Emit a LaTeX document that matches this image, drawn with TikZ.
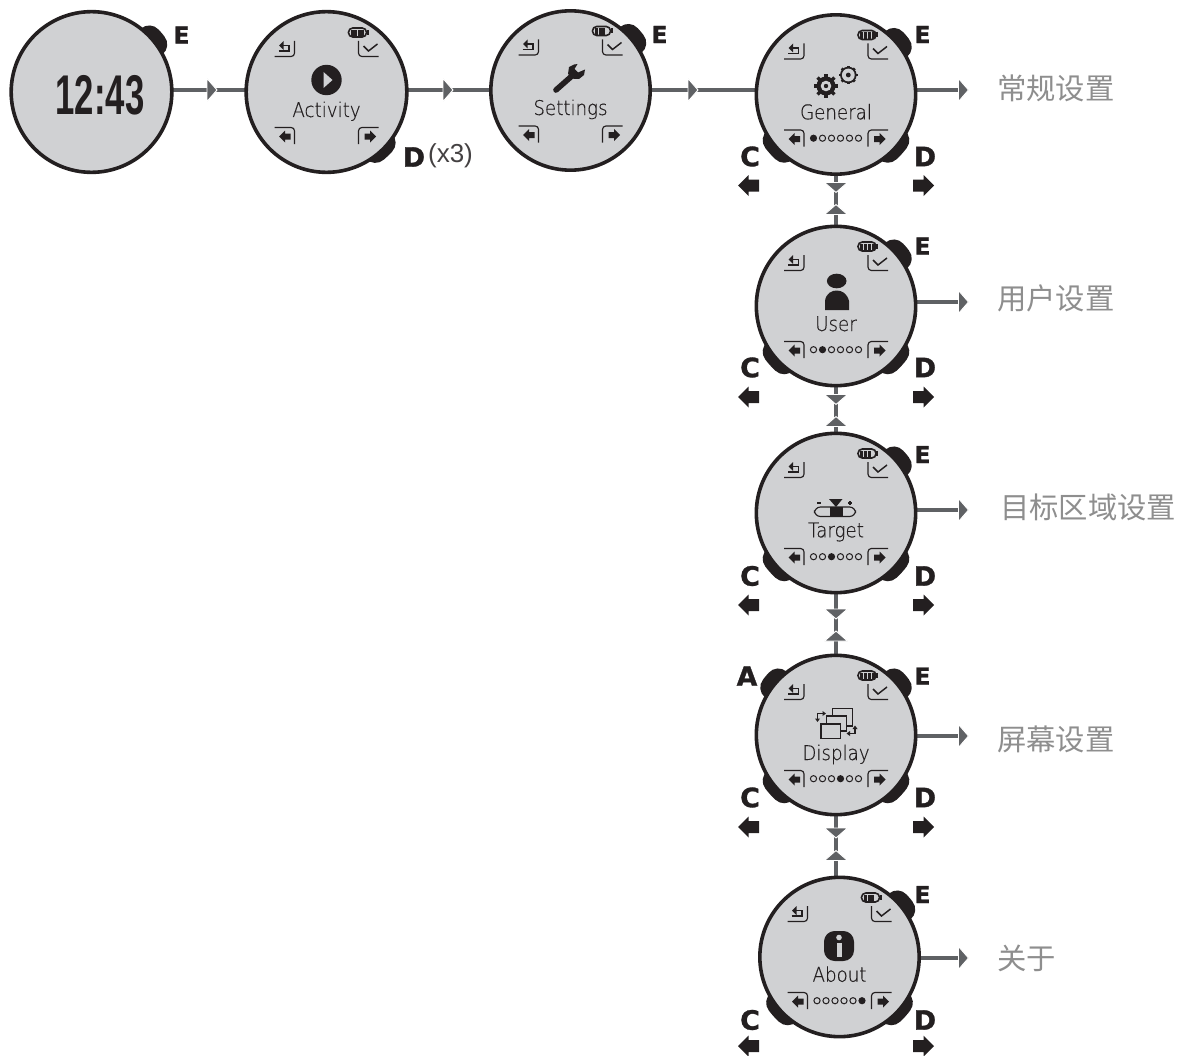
\documentclass[tikz,border=0pt]{standalone}
\usepackage{fontspec}
\usetikzlibrary{backgrounds}
\setmainfont{Liberation Sans}
\newfontfamily\cjk{Noto Sans CJK SC}
\newfontfamily\lcd[FakeBold=.35]{DejaVu Sans ExtraLight}
\newfontfamily\btnfont[FakeBold=1.2]{DejaVu Sans Bold}
\definecolor{ink}{HTML}{231F20}
\definecolor{screen}{HTML}{D0D1D3}
\definecolor{connc}{HTML}{5F6164}
\definecolor{cjkc}{HTML}{8E8E8E}
\tikzset{
  watch/.style={circle,draw=ink,fill=screen,line width=2.7pt,inner sep=0pt,outer sep=0pt,minimum size=120.5pt},
  conn/.style={draw=connc,line width=3pt},
  arrowtri/.style={fill=connc,draw=white,line width=.7pt},
  btn/.style={draw=ink,line width=19pt,line cap=round},
  thin/.style={draw=ink,line width=.85pt},
  lbl/.style={font=\lcd\fontsize{15.2pt}{16pt}\selectfont,text=ink,inner sep=0pt,anchor=base,xscale=.9},
  keyE/.style={font=\btnfont\fontsize{17.5pt}{17.5pt}\selectfont,text=ink,inner sep=0pt},
  keyL/.style={font=\btnfont\fontsize{20pt}{20pt}\selectfont,text=ink,inner sep=0pt},
  side/.style={font=\cjk\fontsize{22pt}{24pt}\selectfont,text=cjkc,inner sep=0pt,anchor=west},
}
% buttons, drawn at a corner of a watch: centre x, centre y, start angle, end angle (y down)
\newcommand\watchbtn[4]{\draw[btn] ({#1+79*cos(#3)},{#2+79*sin(#3)}) arc[start angle=#3,end angle=#4,radius=79];}
\newcommand\lowbtn[4]{\draw[btn] ({#1+76*cos(#3)},{#2+76*sin(#3)}) arc[start angle=#3,end angle=#4,radius=76];}
\newcommand\triR[2]{\filldraw[arrowtri] (#1,#2-11.5) -- (#1+10,#2) -- (#1,#2+11.5) -- cycle;}
\newcommand\triD[2]{\filldraw[arrowtri] (#1-11.5,#2) -- (#1+11.5,#2) -- (#1,#2+10) -- cycle;}
\newcommand\triU[2]{\filldraw[arrowtri] (#1-11.5,#2) -- (#1+11.5,#2) -- (#1,#2-10) -- cycle;}
% battery: bar width, number of bars
\newcommand\batt[2]{%
  \draw[draw=ink,line width=1.2pt,rounded corners=3.2pt] (22,-64) rectangle (40,-55);
  \fill[ink] (40,-62) rectangle (42,-57);
  \foreach \i in {1,...,#2}{\fill[ink] ({24.3+(\i-1)*(#1+.8)},-62) rectangle ++(#1,7);}
}
\newcommand\softkeys{%
  % back
  \draw[thin,rounded corners=2.5pt] (-52,-35.5) -- (-32,-35.5) -- (-32,-51);
  \draw[thin] (-48,-41) -- (-37.5,-41) -- (-37.5,-46.5) -- (-44,-46.5);
  \fill[ink] (-47.5,-46.5) -- (-43,-51) -- (-43,-42) -- cycle;
  % ok
  \draw[thin,rounded corners=2.5pt] (32,-51) -- (32,-35.5) -- (52,-35.5);
  \draw[thin,line width=1.1pt] (37,-46) -- (42,-41) -- (51,-48);
  % bottom keys
  \draw[thin,rounded corners=2.5pt] (-52,35.5) -- (-32,35.5) -- (-32,52);
  \draw[thin,rounded corners=2.5pt] (52,35.5) -- (32,35.5) -- (32,52);
  \fill[ink] (-47.5,44.5) -- (-41.5,38.5) -- (-41.5,41.5) -- (-36,41.5) -- (-36,47.5) -- (-41.5,47.5) -- (-41.5,50.5) -- cycle;
  \fill[ink] (49.5,44.5) -- (43.5,38.5) -- (43.5,41.5) -- (38,41.5) -- (38,47.5) -- (43.5,47.5) -- (43.5,50.5) -- cycle;
}
% pagination dots: index of filled one
\newcommand\pagedots[1]{%
  \foreach \i in {1,...,6}{%
    \pgfmathtruncatemacro\isfull{\i==#1 ? 1 : 0}%
    \ifnum\isfull=1
      \fill[ink] ({-22.5+(\i-1)*9},43.7) circle[radius=3.6];
    \else
      \draw[thin,line width=.75pt] ({-22.5+(\i-1)*9},43.7) circle[radius=3.1];
    \fi
  }
}
% big soft arrows
\newcommand\leftarr[2]{\fill[ink] (#1-10.5,#2) -- (#1,#2-10.5) -- (#1,#2-6) -- (#1+10.5,#2-6) -- (#1+10.5,#2+6) -- (#1,#2+6) -- (#1,#2+10.5) -- cycle;}
\newcommand\rightarr[2]{\fill[ink] (#1+10.5,#2) -- (#1,#2-10.5) -- (#1,#2-6) -- (#1-10.5,#2-6) -- (#1-10.5,#2+6) -- (#1,#2+6) -- (#1,#2+10.5) -- cycle;}
\begin{document}
\begin{tikzpicture}[x=0.75pt,y=-0.75pt]
\useasboundingbox (0,0) rectangle (1178,1056);

% watch faces
\node[watch] (w0) at (91.5,92) {};
\node[watch] (w1) at (326.5,92) {};
\node[watch,minimum size=119.5pt] (w2) at (570.5,90.5) {};
\node[watch,minimum size=119.5pt] (w3) at (836,94.5) {};
\node[watch,minimum size=119.5pt] (w4) at (836,306) {};
\node[watch,minimum size=119.5pt] (w5) at (836,513) {};
\node[watch,minimum size=119.5pt] (w6) at (836,735) {};
\node[watch,minimum size=119.5pt] (w7) at (839.5,957) {};

% connector levels and free ends of the side connectors
\coordinate (l0) at (210,90);
\coordinate (l1) at (446,90);
\coordinate (l2) at (691,90);
\coordinate (e3) at (958,90);
\coordinate (e4) at (958,302);
\coordinate (e5) at (958,510);
\coordinate (e6) at (958,736);
\coordinate (e7) at (958,958);

\begin{scope}[on background layer]
  % buttons
  \watchbtn{91.5}{92}{-43}{-37}
  \lowbtn{326.5}{92}{42}{50}
  \watchbtn{570.5}{90.5}{-43}{-37}
  \foreach \cx/\cy in {836/94.5,836/306,836/513,836/735,839.5/957}{
    \watchbtn{\cx}{\cy}{-43}{-37}
    \lowbtn{\cx}{\cy}{37}{47}
    \lowbtn{\cx}{\cy}{133}{143}
  }
  \watchbtn{836}{735}{-143}{-137}
  % connectors
  \draw[conn] (w0.east |- l0) -- (w1.west |- l0);
  \draw[conn] (w1.east |- l1) -- (w2.west |- l1);
  \draw[conn] (w2.east |- l2) -- (w3.west |- l2);
  \draw[conn] (w3.east |- e3) -- (e3);
  \draw[conn] (w4.east |- e4) -- (e4);
  \draw[conn] (w5.east |- e5) -- (e5);
  \draw[conn] (w6.east |- e6) -- (e6);
  \draw[conn] (w7.east |- e7) -- (e7);
  \draw[conn] (w3.south) -- (w4.north);
  \draw[conn] (w4.south) -- (w5.north);
  \draw[conn] (w5.south) -- (w6.north);
  \draw[conn] (w6.south) -- (w6.south |- w7.north);
\end{scope}

% connector triangles
\triR{207}{90}
\triR{443}{90}
\triR{688}{90}
\triR{958.5}{90}
\triR{958.5}{302}
\triR{958.5}{510}
\triR{958.5}{736}
\triR{958.5}{958}
\triD{836}{182.5}\triU{836}{214.5}
\triD{836}{394.5}\triU{836}{426.5}
\triD{836}{609}\triU{836}{641}
\triD{836}{828}\triU{836}{860.5}

% side labels
\node[side] (s3) at (997,88) {常规设置};
\node[side] (s4) at (997,298) {用户设置};
\node[side] (s5) at (1000,507) {目标区域设置};
\node[side] (s6) at (997,739) {屏幕设置};
\node[side] (s7) at (997,958) {关于};

% watch 0
\node[xscale=.62,font=\bfseries\fontsize{42pt}{42pt}\selectfont,text=ink,inner sep=0pt] (time) at (100,95) {12:43};
\node[keyE] (k0e) at (181.5,35) {E};

% Activity
\begin{scope}[shift={(326.5,92)}]
  \softkeys\batt{6}{2}
  \fill[ink] (0,-12) circle[radius=15.2];
  \fill[screen] (-3,-20) -- (6,-12) -- (-3,-4) -- cycle;
  \node[lbl] (t1) at (0,25) {Activity};
\end{scope}
\node[keyL] (k1d) at (414,157) {D};
\node[font=\fontsize{19.5pt}{20pt}\selectfont,text=ink!85,inner sep=0pt] (k1x) at (450.5,156) {(x3)};

% Settings
\begin{scope}[shift={(570.5,90.5)}]
  \softkeys\batt{3}{3}
  \node[lbl] (t2) at (0,24.5) {Settings};
\end{scope}
\draw[ink,line width=4.2pt,line cap=round] (556,90) -- (573,75);
\fill[ink] (568,74) -- (569,67) -- (574,64.5) -- (577.5,64) -- (574.5,69) -- (578,72.5) -- (585,69.5) -- (584,75) -- (579,79) -- (574,79) -- cycle;
\node[keyE] (k2e) at (659.5,34.5) {E};

% General
\begin{scope}[shift={(836,94.5)}]
  \softkeys\batt{3}{4}\pagedots{1}
  \node[lbl] (t3) at (0,24.8) {General};
\end{scope}
\foreach \a in {0,45,...,315}{\draw[ink,line width=2.6pt] (826,86) -- ++(\a:12);}
\fill[ink] (826,86) circle[radius=9.5];
\fill[screen] (826,86) circle[radius=5.3];
\fill[ink] (826,86) circle[radius=2.2];
\foreach \a in {0,45,...,315}{\draw[ink,line width=2pt] (848.3,75) -- ++(\a:9.3);}
\fill[ink] (848.3,75) circle[radius=8.3];
\fill[screen] (848.3,75) circle[radius=6.4];
\fill[ink] (848.3,75) circle[radius=2.4];

% User
\begin{scope}[shift={(836,306)}]
  \softkeys\batt{3}{4}\pagedots{2}
  \node[lbl] (t4) at (0,25) {User};
\end{scope}
\fill[ink] (836.7,281) ellipse[x radius=9.8,y radius=7.3];
\fill[ink] (825,310) -- (825,301) .. controls (826,293) and (832,290.5) .. (836.7,290.5) .. controls (841.5,290.5) and (847,293) .. (849,301) -- (849,310) -- cycle;

% Target
\begin{scope}[shift={(836,513)}]
  \softkeys\batt{3}{3}\pagedots{3}
  \node[lbl] (t5) at (0,24.3) {Target};
\end{scope}
\draw[thin,rounded corners=4.5pt] (814.5,507) rectangle (855.5,516.5);
\fill[ink] (830,507) rectangle (843,516.5);
\fill[ink] (829,499) -- (842.5,499) -- (836,507) -- cycle;
\draw[thin] (817,503) -- (821,503);
\draw[thin] (848,503) -- (852,503) (850,501) -- (850,505);

% Display
\begin{scope}[shift={(836,735)}]
  \softkeys\batt{3}{4}\pagedots{4}
  \node[lbl] (t6) at (0,25) {Display};
\end{scope}
\draw[thin,line width=1pt] (832.7,716) |- (852.3,708.7) |- (846.7,726);
\fill[screen] (826.7,716) rectangle (846.7,731);
\draw[thin,line width=1pt] (826.7,724) |- (846.7,716) |- (840.7,731);
\draw[thin,line width=1pt,fill=screen] (821,724) rectangle (840.7,738.3);
\draw[thin] (817.5,719) -- (817.5,713.5) -- (823,713.5);
\fill[ink] (826,713.5) -- (822.5,711) -- (822.5,716) -- cycle;
\fill[ink] (817.5,722) -- (815,718.5) -- (820,718.5) -- cycle;
\draw[thin] (855,728) -- (855,733.5) -- (849.5,733.5);
\fill[ink] (846.5,733.5) -- (850,731) -- (850,736) -- cycle;
\fill[ink] (855,725.5) -- (852.5,729) -- (857.5,729) -- cycle;

% About
\begin{scope}[shift={(839.5,957)}]
  \softkeys\batt{3}{3}\pagedots{6}
  \node[lbl] (t7) at (0,24.7) {About};
\end{scope}
\fill[ink,rounded corners=8pt] (824,931) rectangle (854,961);
\fill[screen] (839,937.5) circle[radius=2.8];
\fill[screen] (836.5,943) rectangle (841.5,956.5);

% button letters and arrows of the column
\node[keyE] (k3e) at (922.5,34.5) {E};
\node[keyL] (k3c) at (750,156.5) {C};
\node[keyL] (k3d) at (925,156.5) {D};
\leftarr{748.5}{185.5}\rightarr{923.5}{185.5}
\node[keyE] (k4e) at (922.5,246) {E};
\node[keyL] (k4c) at (750,367.5) {C};
\node[keyL] (k4d) at (925,367.5) {D};
\leftarr{748.5}{397}\rightarr{923.5}{397}
\node[keyE] (k5e) at (922.5,454.5) {E};
\node[keyL] (k5c) at (750,576) {C};
\node[keyL] (k5d) at (925,576) {D};
\leftarr{748.5}{605}\rightarr{923.5}{605}
\node[keyL] (k6a) at (747,676) {A};
\node[keyE] (k6e) at (922.5,676) {E};
\node[keyL] (k6c) at (750,797.5) {C};
\node[keyL] (k6d) at (925,797.5) {D};
\leftarr{748.5}{827}\rightarr{923.5}{827}
\node[keyE] (k7e) at (922.5,894.5) {E};
\node[keyL] (k7c) at (750,1020) {C};
\node[keyL] (k7d) at (925,1020) {D};
\leftarr{748.5}{1046}\rightarr{923.5}{1046}
\end{tikzpicture}
\end{document}
